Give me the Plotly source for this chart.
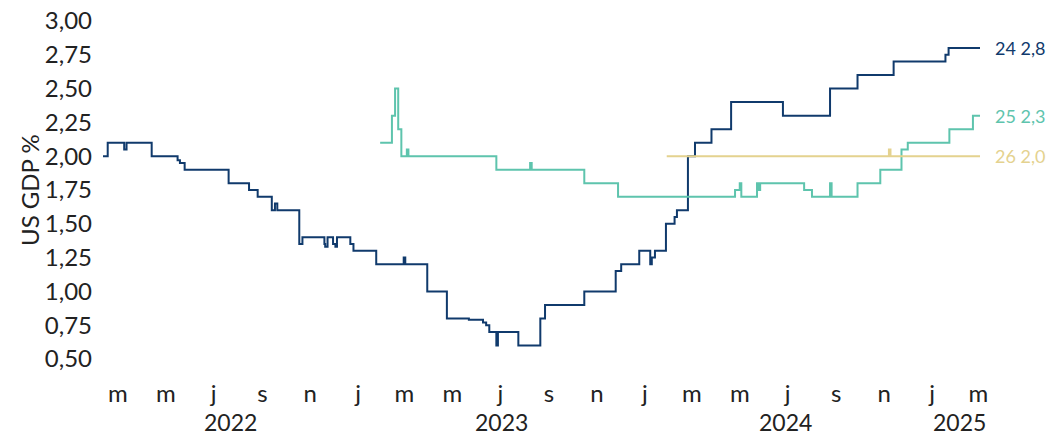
import plotly.graph_objects as go

# ---- data (step-change points) ----
s24_dates = ["2022-02-10", "2022-02-16", "2022-03-09", "2022-03-12", "2022-04-13", "2022-05-16",
             "2022-05-19", "2022-05-25", "2022-07-20", "2022-08-15", "2022-08-26", "2022-09-13",
             "2022-09-17", "2022-09-20", "2022-10-18", "2022-10-22", "2022-11-19", "2022-11-20",
             "2022-11-23", "2022-11-30", "2022-12-03", "2022-12-05", "2022-12-22", "2022-12-26",
             "2023-01-24", "2023-02-28", "2023-03-02", "2023-03-30", "2023-04-24", "2023-05-22",
             "2023-06-09", "2023-06-13", "2023-06-17", "2023-06-26", "2023-06-28", "2023-07-24",
             "2023-08-21", "2023-08-27", "2023-10-16", "2023-11-25", "2023-12-02", "2023-12-25",
             "2024-01-08", "2024-01-10", "2024-01-14", "2024-01-28", "2024-02-08", "2024-02-11",
             "2024-02-25", "2024-03-05", "2024-03-26", "2024-04-20", "2024-06-25", "2024-08-24",
             "2024-09-28", "2024-11-13", "2025-01-18", "2025-01-22", "2025-03-03"]
s24_values = [2.00, 2.10, 2.05, 2.10, 2.00, 1.97,
              1.95, 1.90, 1.80, 1.75, 1.70, 1.60,
              1.65, 1.60, 1.35, 1.40, 1.35, 1.33,
              1.40, 1.35, 1.33, 1.40, 1.35, 1.30,
              1.20, 1.25, 1.20, 1.00, 0.80, 0.79,
              0.77, 0.75, 0.70, 0.60, 0.70, 0.60,
              0.80, 0.90, 1.00, 1.15, 1.20, 1.30,
              1.20, 1.25, 1.30, 1.50, 1.55, 1.60,
              2.00, 2.10, 2.20, 2.40, 2.30, 2.50,
              2.60, 2.70, 2.75, 2.80, 2.80]

s25_dates = ["2023-01-29", "2023-02-13", "2023-02-17", "2023-02-21", "2023-02-25", "2023-03-04",
             "2023-03-06", "2023-06-26", "2023-08-08", "2023-08-10", "2023-10-16", "2023-11-28",
             "2024-04-25", "2024-05-01", "2024-05-03", "2024-05-23", "2024-05-25", "2024-05-27",
             "2024-07-22", "2024-08-01", "2024-08-24", "2024-08-26", "2024-09-28", "2024-10-27",
             "2024-11-23", "2024-12-01", "2025-01-23", "2025-02-22", "2025-03-03"]
s25_values = [2.10, 2.30, 2.50, 2.20, 2.00, 2.05,
              2.00, 1.90, 1.95, 1.90, 1.80, 1.70,
              1.75, 1.80, 1.70, 1.80, 1.75, 1.80,
              1.75, 1.70, 1.80, 1.70, 1.80, 1.90,
              2.05, 2.10, 2.20, 2.30, 2.30]

s26_dates = ["2024-01-29", "2024-11-07", "2024-11-09", "2025-03-03"]
s26_values = [2.00, 2.05, 2.00, 2.00]

series_names = ["24", "25", "26"]
series_colors = ["#103a6c", "#5ec4ad", "#e4d28f"]

month_ticks = ["2022-03-01", "2022-05-01", "2022-07-01", "2022-09-01", "2022-11-01",
               "2023-01-01", "2023-03-01", "2023-05-01", "2023-07-01", "2023-09-01", "2023-11-01",
               "2024-01-01", "2024-03-01", "2024-05-01", "2024-07-01", "2024-09-01", "2024-11-01",
               "2025-01-01", "2025-03-01"]
month_labels = ["m", "m", "j", "s", "n", "j", "m", "m", "j", "s", "n",
                "j", "m", "m", "j", "s", "n", "j", "m"]
year_labels = ["2022", "2023", "2024", "2025"]
year_positions = ["2022-07-22", "2023-07-03", "2024-06-28", "2025-02-05"]

y_ticks = [0.5, 0.75, 1.0, 1.25, 1.5, 1.75, 2.0, 2.25, 2.5, 2.75, 3.0]

FONT = "Lato"
W, H = 1054, 436
L, R, T, B = 103, 74, 21, 77

fig = go.Figure()
all_series = [(s24_dates, s24_values), (s25_dates, s25_values), (s26_dates, s26_values)]
for (d, v), name, col in zip(all_series, series_names, series_colors):
    fig.add_trace(go.Scatter(x=d, y=v, mode="lines", name=name,
                             line=dict(color=col, width=2, shape="hv"),
                             showlegend=False, hoverinfo="skip", cliponaxis=False))
    fig.add_annotation(x=d[-1], y=v[-1], xref="x", yref="y",
                       text=f"{name} {v[-1]:.1f}".replace(".", ","),
                       showarrow=False, xanchor="left", yanchor="middle",
                       xshift=13, font=dict(family=FONT, size=18, color=col))

for lab, pos in zip(year_labels, year_positions):
    fig.add_annotation(x=pos, y=-(422 - 359) / 338, xref="x", yref="paper",
                       text=lab, showarrow=False, xanchor="center", yanchor="middle",
                       borderpad=0,
                       font=dict(family=FONT, size=23, color="#222222"))

fig.add_annotation(x=(29 - L) / (W - L - R), y=0.5, xref="paper", yref="paper",
                   text="US GDP %", textangle=-90, showarrow=False,
                   xanchor="center", yanchor="middle",
                   font=dict(family=FONT, size=24, color="#222222"))

fig.update_layout(
    width=W, height=H,
    margin=dict(l=L, r=R, t=T, b=B, pad=0, autoexpand=False),
    paper_bgcolor="white", plot_bgcolor="white",
    separators=",.",
    font=dict(family=FONT, size=24, color="#222222"),
    xaxis=dict(type="date", range=["2022-02-10", "2025-03-03"],
               tickvals=month_ticks, ticktext=month_labels, automargin=False,
               showgrid=False, zeroline=False, showline=False, ticks="",
               tickfont=dict(family=FONT, size=24, color="#222222"),
               ticklabelstandoff=18),
    yaxis=dict(range=[0.5, 3.0], tickvals=y_ticks, tickformat=".2f", automargin=False,
               showgrid=False, zeroline=False, showline=False, ticks="",
               tickfont=dict(family=FONT, size=24, color="#222222"),
               ticklabelstandoff=10),
)

fig.write_html("out.html",
               config={"displayModeBar": False},
               post_script="document.body.style.margin='0';document.body.style.overflow='hidden';")
